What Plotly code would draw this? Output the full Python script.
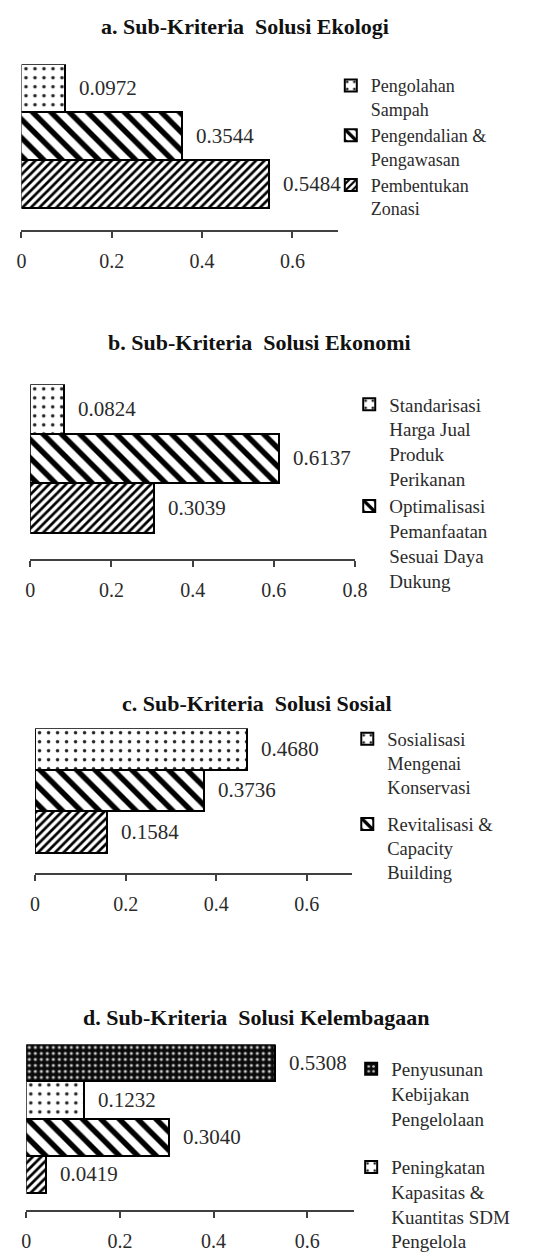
import plotly.graph_objects as go

W, H = 560, 1260

# ---------------- data ----------------
a_title = "a. Sub-Kriteria  Solusi Ekologi"
a_names = ["Pengolahan<br>Sampah", "Pengendalian &amp;<br>Pengawasan", "Pembentukan<br>Zonasi"]
a_values = [0.0972, 0.3544, 0.5484]
a_ticks = [0, 0.2, 0.4, 0.6]
a_ticklabels = ["0", "0.2", "0.4", "0.6"]

b_title = "b. Sub-Kriteria  Solusi Ekonomi"
b_names = ["Standarisasi<br>Harga Jual<br>Produk<br>Perikanan",
           "Optimalisasi<br>Pemanfaatan<br>Sesuai Daya<br>Dukung", None]
b_values = [0.0824, 0.6137, 0.3039]
b_ticks = [0, 0.2, 0.4, 0.6, 0.8]
b_ticklabels = ["0", "0.2", "0.4", "0.6", "0.8"]

c_title = "c. Sub-Kriteria  Solusi Sosial"
c_names = ["Sosialisasi<br>Mengenai<br>Konservasi", "Revitalisasi &amp;<br>Capacity<br>Building", None]
c_values = [0.4680, 0.3736, 0.1584]
c_ticks = [0, 0.2, 0.4, 0.6]
c_ticklabels = ["0", "0.2", "0.4", "0.6"]

d_title = "d. Sub-Kriteria  Solusi Kelembagaan"
d_names = ["Penyusunan<br>Kebijakan<br>Pengelolaan",
           "Peningkatan<br>Kapasitas &amp;<br>Kuantitas SDM<br>Pengelola", None, None]
d_values = [0.5308, 0.1232, 0.3040, 0.0419]
d_ticks = [0, 0.2, 0.4, 0.6]
d_ticklabels = ["0", "0.2", "0.4", "0.6"]

# ---------------- styles ----------------
FONT = "Liberation Serif"
TXT = "#2b2b2b"
AX = "#404040"

PAT = {
    "dots": dict(shape=".", size=9, solidity=0.12, fgcolor="#222222", bgcolor="white", fgopacity=1),
    "wide": dict(shape="\\", size=13, solidity=0.42, fgcolor="black", bgcolor="white", fgopacity=1),
    "dense": dict(shape="/", size=6, solidity=0.45, fgcolor="black", bgcolor="white", fgopacity=1),
    "blackdots": dict(shape=".", size=6, solidity=0.22, fgcolor="#d0d0d0", bgcolor="#0a0a0a", fgopacity=1),
}

panels = [
    dict(title=a_title, names=a_names, values=a_values, pats=["dots", "wide", "dense"],
         ticks=a_ticks, tl=a_ticklabels, xr=0.7, x0=17, x1=343, top=65, axis=233,
         bars_bottom=211, tx=247, ty=27, lx=336, ly=68, gap=0, lfs=18),
    dict(title=b_title, names=b_names, values=b_values, pats=["dots", "wide", "dense"],
         ticks=b_ticks, tl=b_ticklabels, xr=0.8, x0=26, x1=361, top=389, axis=566,
         bars_bottom=539, tx=262, ty=347, lx=355, ly=390, gap=0, lfs=19),
    dict(title=c_title, names=c_names, values=c_values, pats=["dots", "wide", "dense"],
         ticks=c_ticks, tl=c_ticklabels, xr=0.7, x0=31, x1=358, top=737, axis=884,
         bars_bottom=863, tx=260, ty=712, lx=353, ly=729, gap=10, lfs=18.5),
    dict(title=d_title, names=d_names, values=d_values, pats=["blackdots", "dots", "wide", "dense"],
         ticks=d_ticks, tl=d_ticklabels, xr=0.7, x0=22, x1=360, top=1057, axis=1225,
         bars_bottom=1207, tx=259, ty=1030, lx=357, ly=1063, gap=21, lfs=19),
]

fig = go.Figure()
annotations = []
layout = {}

for i, p in enumerate(panels):
    k = "" if i == 0 else str(i + 1)
    n = len(p["values"])
    unit = (p["bars_bottom"] - p["top"]) / n
    gap_units = (p["axis"] - p["bars_bottom"]) / unit
    yrange = [-0.5 - gap_units, n - 0.5]
    legend_name = "legend" + k
    for j, (nm, v, pt) in enumerate(zip(p["names"], p["values"], p["pats"])):
        ypos = n - 1 - j
        fig.add_trace(go.Bar(
            x=[v], y=[ypos], orientation="h", width=1,
            name=nm if nm else "",
            showlegend=nm is not None,
            legend=legend_name,
            legendgroup=f"g{i}_{j}",
            marker=dict(color="white", opacity=1, line=dict(color="black", width=2), pattern=PAT[pt]),
            xaxis="x" + k, yaxis="y" + k,
            hoverinfo="skip",
        ))
        annotations.append(dict(
            x=v, y=ypos, xref="x" + k, yref="y" + k, text=f"{v:.4f}",
            xanchor="left", yanchor="middle", xshift=12, showarrow=False,
            font=dict(family=FONT, size=21, color=TXT),
        ))
    layout["xaxis" + k] = dict(
        domain=[p["x0"] / W, p["x1"] / W], range=[0, p["xr"]], anchor="y" + k,
        showline=True, linecolor=AX, linewidth=1.5, ticks="outside", ticklen=6,
        tickwidth=1.5, tickcolor=AX, tickvals=p["ticks"], ticktext=p["tl"],
        showgrid=False, zeroline=False, ticklabelstandoff=6,
        tickfont=dict(family=FONT, size=20, color=TXT), fixedrange=True,
    )
    layout["yaxis" + k] = dict(
        domain=[1 - p["axis"] / H, 1 - p["top"] / H], range=yrange, anchor="x" + k,
        visible=False, fixedrange=True,
    )
    layout[legend_name] = dict(
        x=p["lx"] / W, y=1 - p["ly"] / H, xanchor="left", yanchor="top",
        font=dict(family=FONT, size=p["lfs"], color=TXT), bgcolor="rgba(0,0,0,0)",
        traceorder="grouped", tracegroupgap=p["gap"], valign="top",
        itemclick=False, itemdoubleclick=False,
    )
    annotations.append(dict(
        x=p["tx"] / W, y=1 - p["ty"] / H, xref="paper", yref="paper",
        text="<b>" + p["title"] + "</b>", showarrow=False, xanchor="center", yanchor="middle",
        font=dict(family=FONT, size=22, color="#111111"),
    ))

fig.update_layout(
    width=W, height=H, margin=dict(l=0, r=0, t=0, b=0),
    paper_bgcolor="white", plot_bgcolor="white",
    barmode="stack", annotations=annotations, **layout,
)

post = (
    "var de=document.documentElement, b=document.body;"
    "de.style.margin='0';de.style.padding='0';de.style.overflow='hidden';de.style.height='1260px';"
    "b.style.margin='0';b.style.padding='0';b.style.overflow='hidden';b.style.height='1260px';"
    "var gd=document.getElementById('{plot_id}');"
    "if(gd&&gd.parentElement){gd.parentElement.style.height='1260px';gd.parentElement.style.overflow='hidden';}"
)
fig.write_html("out.html", config={"displayModeBar": False}, post_script=post)
